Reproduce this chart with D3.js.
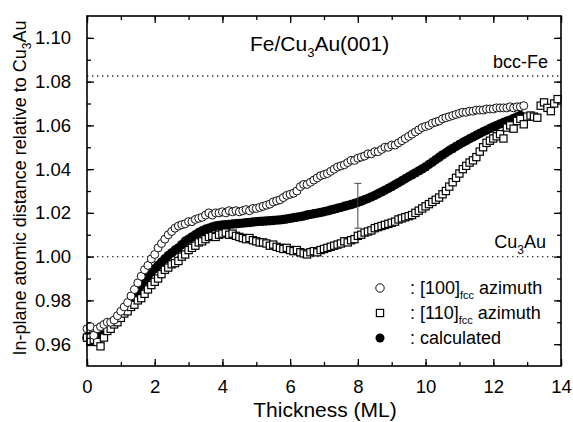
<!DOCTYPE html>
<html>
<head>
<meta charset="utf-8">
<script src="https://cdn.jsdelivr.net/npm/d3@7"></script>
<style>
  body { margin: 0; background: #fff; }
  text { font-family: "Liberation Sans", Arial, Helvetica, sans-serif; fill: #000; }
</style>
</head>
<body>
<svg id="canvas" width="573" height="422"></svg>
<script>
// thickness grid (ML) shared by all three series, paired by index
const thickness = [
  0.0, 0.1, 0.2, 0.3, 0.4, 0.5, 0.6, 0.7, 0.8, 0.9,
  1.0, 1.1, 1.2, 1.3, 1.4, 1.5, 1.6, 1.7, 1.8, 1.9,
  2.0, 2.1, 2.2, 2.3, 2.4, 2.5, 2.6, 2.7, 2.8, 2.9,
  3.0, 3.1, 3.2, 3.3, 3.4, 3.5, 3.6, 3.7, 3.8, 3.9,
  4.0, 4.1, 4.2, 4.3, 4.4, 4.5, 4.6, 4.7, 4.8, 4.9,
  5.0, 5.1, 5.2, 5.3, 5.4, 5.5, 5.6, 5.7, 5.8, 5.9,
  6.0, 6.1, 6.2, 6.3, 6.4, 6.5, 6.6, 6.7, 6.8, 6.9,
  7.0, 7.1, 7.2, 7.3, 7.4, 7.5, 7.6, 7.7, 7.8, 7.9,
  8.0, 8.1, 8.2, 8.3, 8.4, 8.5, 8.6, 8.7, 8.8, 8.9,
  9.0, 9.1, 9.2, 9.3, 9.4, 9.5, 9.6, 9.7, 9.8, 9.9,
  10.0, 10.1, 10.2, 10.3, 10.4, 10.5, 10.6, 10.7, 10.8, 10.9,
  11.0, 11.1, 11.2, 11.3, 11.4, 11.5, 11.6, 11.7, 11.8, 11.9,
  12.0, 12.1, 12.2, 12.3, 12.4, 12.5, 12.6, 12.7, 12.8, 12.9,
  13.0, 13.1, 13.2, 13.3, 13.4, 13.5, 13.6, 13.7, 13.8, 13.9
];

// open circles, [100]fcc azimuth
const az100 = [
  0.967, 0.968, 0.964, 0.967, 0.968, 0.969, 0.970, 0.970, 0.971, 0.973,
  0.975, 0.977, 0.979, 0.982, 0.985, 0.988, 0.991, 0.994, 0.996, 0.999,
  1.001, 1.004, 1.006, 1.008, 1.010, 1.0115, 1.013, 1.014, 1.0146, 1.015,
  1.016, 1.016, 1.017, 1.0175, 1.018, 1.019, 1.020, 1.019, 1.020, 1.020,
  1.0205, 1.020, 1.021, 1.0205, 1.021, 1.0205, 1.021, 1.0215, 1.021, 1.022,
  1.022, 1.0225, 1.023, 1.0235, 1.024, 1.025, 1.0255, 1.026, 1.027, 1.028,
  1.0285, 1.029, 1.030, 1.032, 1.033, 1.033, 1.034, 1.035, 1.036, 1.037,
  1.0375, 1.038, 1.039, 1.040, 1.041, 1.0415, 1.042, 1.043, 1.044, 1.044,
  1.045, 1.0455, 1.046, 1.047, 1.047, 1.048, 1.048, 1.049, 1.050, 1.050,
  1.051, 1.051, 1.052, 1.053, 1.054, 1.055, 1.056, 1.057, 1.058, 1.059,
  1.0595, 1.060, 1.061, 1.0615, 1.062, 1.063, 1.0635, 1.064, 1.0645, 1.065,
  1.0655, 1.066, 1.066, 1.0665, 1.0665, 1.067, 1.067, 1.067, 1.0675, 1.0675,
  1.0675, 1.068, 1.068, 1.068, 1.068, 1.0685, 1.068, 1.0685, 1.0685, 1.069
];

// open squares, [110]fcc azimuth
const az110 = [
  0.963, 0.961, 0.962, 0.961, 0.959, 0.963, 0.966, 0.967, 0.969, 0.970,
  0.972, 0.974, 0.975, 0.977, 0.978, 0.980, 0.981, 0.983, 0.985, 0.987,
  0.9885, 0.990, 0.992, 0.994, 0.995, 0.9965, 0.997, 0.998, 1.000, 1.001,
  1.003, 1.004, 1.005, 1.0065, 1.007, 1.008, 1.009, 1.0095, 1.009, 1.010,
  1.0105, 1.011, 1.010, 1.0105, 1.0095, 1.009, 1.0085, 1.008, 1.0085, 1.0075,
  1.007, 1.0065, 1.0065, 1.006, 1.005, 1.0055, 1.0045, 1.004, 1.0035, 1.004,
  1.003, 1.0025, 1.003, 1.002, 1.0015, 1.001, 1.002, 1.0025, 1.002, 1.003,
  1.0035, 1.004, 1.0045, 1.005, 1.0055, 1.006, 1.007, 1.0065, 1.0075, 1.008,
  1.0095, 1.010, 1.011, 1.0115, 1.012, 1.013, 1.0135, 1.014, 1.0145, 1.015,
  1.0155, 1.016, 1.017, 1.0175, 1.018, 1.0185, 1.019, 1.020, 1.021, 1.022,
  1.023, 1.024, 1.025, 1.026, 1.027, 1.0285, 1.030, 1.032, 1.034, 1.036,
  1.038, 1.040, 1.0415, 1.043, 1.044, 1.0455, 1.048, 1.050, 1.052, 1.053,
  1.054, 1.055, 1.056, 1.054, 1.059, 1.060, 1.0585, 1.062, 1.063, 1.0605,
  1.064, 1.0645, 1.064, 1.0635, 1.069, 1.0705, 1.068, 1.0665, 1.070, 1.072
];

// filled circles, calculated
const calc = [
  0.963, 0.9635, 0.964, 0.9645, 0.9655, 0.9665, 0.9675, 0.969, 0.9705, 0.972,
  0.974, 0.976, 0.978, 0.980, 0.982, 0.9845, 0.987, 0.989, 0.991, 0.993,
  0.9945, 0.996, 0.9975, 0.999, 1.0005, 1.0017, 1.003, 1.004, 1.0055, 1.007,
  1.008, 1.009, 1.010, 1.011, 1.0118, 1.0125, 1.013, 1.0136, 1.014, 1.0142,
  1.0145, 1.0146, 1.0147, 1.0149, 1.015, 1.0152, 1.0153, 1.0155, 1.0156, 1.0158,
  1.016, 1.0161, 1.0162, 1.0163, 1.0164, 1.0165, 1.0167, 1.0168, 1.017, 1.0172,
  1.0175, 1.0178, 1.018, 1.0183, 1.0186, 1.019, 1.0193, 1.0196, 1.0199, 1.0202,
  1.0205, 1.0209, 1.0213, 1.0217, 1.0221, 1.0225, 1.023, 1.0234, 1.0238, 1.0243,
  1.0248, 1.0254, 1.026, 1.0266, 1.0273, 1.028, 1.0288, 1.0296, 1.0304, 1.0312,
  1.032, 1.0329, 1.0338, 1.0347, 1.0356, 1.0365, 1.0374, 1.0383, 1.0392, 1.0401,
  1.041, 1.0421, 1.0432, 1.0443, 1.0454, 1.0465, 1.0475, 1.0485, 1.0494, 1.0504,
  1.0513, 1.0522, 1.053, 1.0539, 1.0547, 1.0555, 1.0563, 1.0571, 1.0578, 1.0586,
  1.0593, 1.06, 1.0607, 1.0613, 1.0619, 1.0625, 1.0632, 1.0638, 1.0645
];

// reference levels and the single error bar
const refLines = [
  { name: "bcc-Fe", value: 1.0826 },
  { name: "Cu3Au", value: 1.000 }
];
const errorBar = { x: 8, lo: 1.013, hi: 1.0335 };

const xTicks = [0, 2, 4, 6, 8, 10, 12, 14];
const yTicks = [0.96, 0.98, 1.00, 1.02, 1.04, 1.06, 1.08, 1.10];

const settings = {
  width: 573,
  height: 422,
  padding: { left: 87, top: 16, right: 12, bottom: 56 },
  fontSize: 18,
};

function graph() {
  const svg = d3.select('#canvas');
  const p = settings.padding;
  const W = settings.width - p.left - p.right,
    H = settings.height - p.top - p.bottom;

  const x = d3.scaleLinear().domain([0, 14]).range([p.left, p.left + W]);
  const y = d3.scaleLinear().domain([0.95, 1.11]).range([p.top + H, p.top]);

  const pairs = vals => vals.map((v, i) => [thickness[i], v]);

  // dotted reference lines
  svg.append("g")
    .selectAll("line")
    .data(refLines)
    .join("line")
    .attr("x1", x(0)).attr("x2", x(14))
    .attr("y1", d => y(d.value)).attr("y2", d => y(d.value))
    .attr("stroke", "#333")
    .attr("stroke-width", 1.4)
    .attr("stroke-dasharray", "1.4,3.6");

  // calculated curve: dense filled circles
  svg.append("g")
    .selectAll("circle")
    .data(pairs(calc))
    .join("circle")
    .attr("cx", d => x(d[0]))
    .attr("cy", d => y(d[1]))
    .attr("r", 4.7)
    .attr("fill", "#000");

  // [110] open squares
  const s = 7.2;
  svg.append("g")
    .selectAll("rect")
    .data(pairs(az110))
    .join("rect")
    .attr("x", d => x(d[0]) - s / 2)
    .attr("y", d => y(d[1]) - s / 2)
    .attr("width", s).attr("height", s)
    .attr("fill", "#fff")
    .attr("stroke", "#000")
    .attr("stroke-width", 1.2);

  // [100] open circles
  svg.append("g")
    .selectAll("circle")
    .data(pairs(az100))
    .join("circle")
    .attr("cx", d => x(d[0]))
    .attr("cy", d => y(d[1]))
    .attr("r", 4)
    .attr("fill", "#fff")
    .attr("stroke", "#111")
    .attr("stroke-width", 1);

  // error bar at 8 ML
  const eb = svg.append("g").attr("stroke", "#444").attr("stroke-width", 1);
  eb.append("line")
    .attr("x1", x(errorBar.x)).attr("x2", x(errorBar.x))
    .attr("y1", y(errorBar.lo)).attr("y2", y(errorBar.hi));
  [errorBar.lo, errorBar.hi].forEach(v => {
    eb.append("line")
      .attr("x1", x(errorBar.x) - 3.5).attr("x2", x(errorBar.x) + 3.5)
      .attr("y1", y(v)).attr("y2", y(v));
  });

  // axes: ticks inward on all four sides
  const xMinor = d3.range(0, 15, 1), yMinor = d3.range(0.96, 1.105, 0.01);
  const axisStyle = g => {
    g.select(".domain").remove();
    g.selectAll("line").attr("stroke", "#000").attr("stroke-width", 1.3);
  };
  const bottom = svg.append("g")
    .attr("transform", `translate(0,${p.top + H})`)
    .call(d3.axisBottom(x).tickValues(xTicks).tickSize(-7).tickPadding(14).tickFormat(d3.format("d")))
    .call(axisStyle);
  bottom.selectAll("text").attr("font-size", 18.5);
  svg.append("g")
    .attr("transform", `translate(0,${p.top + H})`)
    .call(d3.axisBottom(x).tickValues(xMinor).tickSize(-4).tickFormat(""))
    .call(axisStyle);
  svg.append("g")
    .attr("transform", `translate(0,${p.top})`)
    .call(d3.axisTop(x).tickValues(xTicks).tickSize(-7).tickFormat(""))
    .call(axisStyle);
  svg.append("g")
    .attr("transform", `translate(0,${p.top})`)
    .call(d3.axisTop(x).tickValues(xMinor).tickSize(-4).tickFormat(""))
    .call(axisStyle);

  const left = svg.append("g")
    .attr("transform", `translate(${p.left},0)`)
    .call(d3.axisLeft(y).tickValues(yTicks).tickSize(-7).tickPadding(16).tickFormat(d3.format(".2f")))
    .call(axisStyle);
  left.selectAll("text").attr("font-size", 18.5);
  svg.append("g")
    .attr("transform", `translate(${p.left},0)`)
    .call(d3.axisLeft(y).tickValues(yMinor).tickSize(-4).tickFormat(""))
    .call(axisStyle);
  svg.append("g")
    .attr("transform", `translate(${p.left + W},0)`)
    .call(d3.axisRight(y).tickValues(yTicks).tickSize(-7).tickFormat(""))
    .call(axisStyle);
  svg.append("g")
    .attr("transform", `translate(${p.left + W},0)`)
    .call(d3.axisRight(y).tickValues(yMinor).tickSize(-4).tickFormat(""))
    .call(axisStyle);

  svg.append("rect")
    .attr("x", p.left).attr("y", p.top)
    .attr("width", W).attr("height", H)
    .attr("fill", "none")
    .attr("stroke", "#000")
    .attr("stroke-width", 1.6);

  // texts
  const title = svg.append("text")
    .attr("x", 250).attr("y", 51)
    .attr("font-size", 21);
  title.append("tspan").text("Fe/Cu");
  title.append("tspan").attr("font-size", 13).attr("dy", 6).text("3");
  title.append("tspan").attr("dy", -6).text("Au(001)");

  svg.append("text")
    .attr("x", x(14) - 13).attr("y", y(1.0826) - 8)
    .attr("text-anchor", "end")
    .attr("font-size", settings.fontSize)
    .text("bcc-Fe");

  const cu = svg.append("text")
    .attr("x", x(14) - 15).attr("y", y(1.00) - 9)
    .attr("text-anchor", "end")
    .attr("font-size", settings.fontSize);
  cu.append("tspan").text("Cu");
  cu.append("tspan").attr("font-size", 12).attr("dy", 6).text("3");
  cu.append("tspan").attr("dy", -6).text("Au");

  svg.append("text")
    .attr("x", 325).attr("y", 417)
    .attr("text-anchor", "middle")
    .attr("font-size", 21)
    .text("Thickness (ML)");

  const yl = svg.append("text")
    .attr("transform", "translate(26,188) rotate(-90)")
    .attr("text-anchor", "middle")
    .attr("font-size", settings.fontSize);
  yl.append("tspan").text("In-plane atomic distance relative to Cu");
  yl.append("tspan").attr("font-size", 12).attr("dy", 5).text("3");
  yl.append("tspan").attr("dy", -5).text("Au");

  // legend
  const legend = svg.append("g").attr("font-size", settings.fontSize);
  const lx = 380, rows = [288, 313, 338];
  legend.append("circle").attr("cx", lx).attr("cy", rows[0]).attr("r", 4.2)
    .attr("fill", "#fff").attr("stroke", "#111");
  legend.append("rect").attr("x", lx - 3.6).attr("y", rows[1] - 3.6)
    .attr("width", 7.2).attr("height", 7.2)
    .attr("fill", "#fff").attr("stroke", "#000").attr("stroke-width", 1.2);
  legend.append("circle").attr("cx", lx).attr("cy", rows[2]).attr("r", 4.5)
    .attr("fill", "#000");
  ["[100]", "[110]"].forEach((lab, i) => {
    const t = legend.append("text").attr("x", 410).attr("y", rows[i] + 6);
    t.append("tspan").text(": " + lab);
    t.append("tspan").attr("font-size", 11).attr("dy", 5).text("fcc");
    t.append("tspan").attr("dy", -5).text(" azimuth");
  });
  legend.append("text").attr("x", 410).attr("y", rows[2] + 6).text(": calculated");
}

window.addEventListener('DOMContentLoaded', () => graph());
</script>
</body>
</html>
